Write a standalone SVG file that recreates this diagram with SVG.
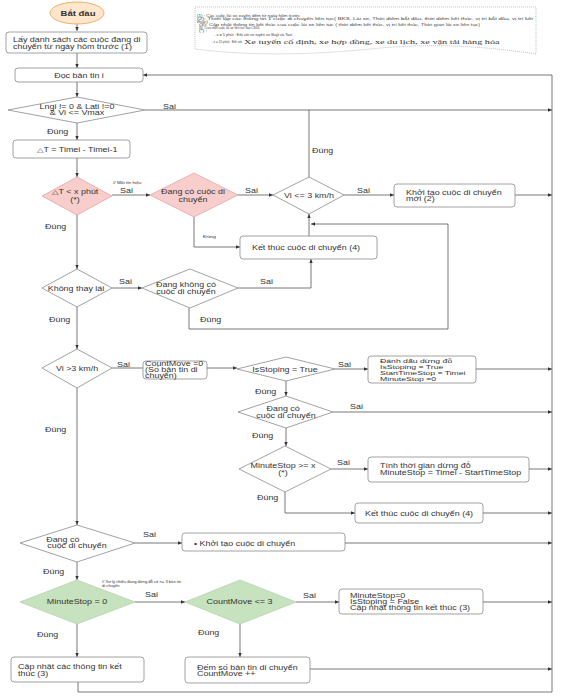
<svg xmlns="http://www.w3.org/2000/svg" width="562" height="696" viewBox="0 0 562 696">
<style>
.t{font-family:"Liberation Sans",Arial,sans-serif;font-size:6.3px;fill:#333}
.c{text-anchor:middle}
.b{font-weight:bold}
.xs{font-size:3.3px}
.n{font-family:"Liberation Sans",Arial,sans-serif;font-size:3.5px;fill:#444}
.sf{font-family:"Liberation Serif","Times New Roman",serif;font-size:6.2px;fill:#333}
.box{fill:#fff;stroke:#8a8a8a;stroke-width:0.8}
.dia{fill:#fff;stroke:#8a8a8a;stroke-width:0.8}
.pink{fill:#f8cecc;stroke:#e6a3a3;stroke-width:0.8}
.green{fill:#c6e2be;stroke:#b4d4ab;stroke-width:0.8}
.ln{fill:none;stroke:#555;stroke-width:0.8}
.ar{marker-end:url(#a)}
</style>
<defs>
<marker id="a" viewBox="0 0 6 6" refX="6" refY="3" markerWidth="4" markerHeight="4" markerUnits="userSpaceOnUse" orient="auto"><path d="M0,0.5 L6,3 L0,5.5 z" fill="#333"/></marker>
</defs>
<rect width="562" height="696" fill="#fff"/>

<g id="note">
<path d="M195,7 H536 V54 C470,44 420,44 370,49 C310,55 250,56 195,49 Z" fill="#fff" stroke="#9a9a9a" stroke-width="0.6" stroke-dasharray="1,1"/>
<text class="n" transform="translate(197,16.5) scale(1.42,1)" textLength="72.5" lengthAdjust="spacingAndGlyphs">(1) : Các cuộc lái xe xuyên đêm từ ngày hôm trước</text>
<text class="n" transform="translate(197,19.7) scale(1.42,1)" textLength="236.6" lengthAdjust="spacingAndGlyphs">(2): Thiết lập các thông tin 1 cuộc di chuyển liên tục( BKS, Lái xe, Thời điểm bắt đầu, thời điểm kết thúc, vị trí bắt đầu, vị trí kết</text>
<text class="n" transform="translate(197,22.7) scale(1.42,1)">thúc)</text>
<text class="n" transform="translate(199,25.7) scale(1.42,1)" textLength="198" lengthAdjust="spacingAndGlyphs">(3): Cập nhật thông tin kết thúc của cuộc lái xe liên tục ( thời điểm kết thúc, vị trí kết thúc, Thời gian lái xe liên tục)</text>
<text class="n" transform="translate(199,28.7) scale(1.42,1)" textLength="43" lengthAdjust="spacingAndGlyphs">(4) : Lưu một cuộc lái xe liên tục vào CSDL</text>
<text class="n" transform="translate(199,31.7) scale(1.42,1)">(*) :</text>
<text class="n" transform="translate(214,35.6) scale(1.42,1)" textLength="55" lengthAdjust="spacingAndGlyphs">- x = 5 phút : Đối với xe tuyến xe Buýt và Taxi</text>
<text class="n" style="font-size:3.2px" x="211.5" y="43.4">- x = 15 phút : Đối với</text>
<text class="sf" transform="translate(244,43.6) scale(1.42,1)" textLength="180" lengthAdjust="spacingAndGlyphs">Xe tuyến cố định, xe hợp đồng, xe du lịch, xe vận tải hàng hóa</text>
</g>

<g id="connectors">
<path class="ln ar" d="M77,24 V31"/>
<path class="ln ar" d="M77,53 V68"/>
<path class="ln ar" d="M77,82 V97"/>
<path class="ln ar" d="M145,110 H552"/>
<path class="ln ar" d="M77,123 V140"/>
<path class="ln ar" d="M77,158 V177"/>
<path class="ln ar" d="M112,195 H150"/>
<path class="ln ar" d="M238,195 H273"/>
<path class="ln ar" d="M344,195 H394"/>
<path class="ln ar" d="M515,195 H552"/>
<path class="ln" d="M309,177 V110"/>
<path class="ln ar" d="M194,217 V247 H240"/>
<path class="ln ar" d="M309,236 V214"/>
<path class="ln ar" d="M189,308 V329 H448 V224 H311"/>
<path class="ln ar" d="M77,215 V269"/>
<path class="ln ar" d="M112,288 H142"/>
<path class="ln ar" d="M238,288 H311 V259"/>
<path class="ln ar" d="M77,307 V349"/>
<path class="ln" d="M112,368 H143"/>
<path class="ln ar" d="M207,368 H237"/>
<path class="ln ar" d="M335,369 H368"/>
<path class="ln ar" d="M476,369 H552"/>
<path class="ln ar" d="M286,381 V396"/>
<path class="ln ar" d="M333,412 H552"/>
<path class="ln ar" d="M286,428 V446"/>
<path class="ln ar" d="M331,469 H368"/>
<path class="ln ar" d="M529,469 H552"/>
<path class="ln ar" d="M285,492 V513 H355"/>
<path class="ln ar" d="M483,513 H552"/>
<path class="ln ar" d="M77,388 V525"/>
<path class="ln ar" d="M135,543 H182"/>
<path class="ln ar" d="M345,543 H552"/>
<path class="ln ar" d="M77,562 V580"/>
<path class="ln ar" d="M135,602 H185"/>
<path class="ln ar" d="M296,602 H339"/>
<path class="ln ar" d="M483,602 H552"/>
<path class="ln ar" d="M240,624 V657"/>
<path class="ln ar" d="M310,669 H552"/>
<path class="ln ar" d="M77,624 V657"/>
<path class="ln ar" d="M78,682 V692 H552 V75 H143"/>
</g>

<g id="labels">
<text class="t" transform="translate(163,108.5) scale(1.42,1)">Sai</text>
<text class="t" transform="translate(47,134) scale(1.42,1)">Đúng</text>
<text class="t xs" transform="translate(113,184) scale(1.42,1)">// Mất tín hiệu</text>
<text class="t" transform="translate(120,193) scale(1.42,1)">Sai</text>
<text class="t" transform="translate(245,193) scale(1.42,1)">Sai</text>
<text class="t" transform="translate(312,153) scale(1.42,1)">Đúng</text>
<text class="t" transform="translate(357,193) scale(1.42,1)">Sai</text>
<text class="t" style="font-size:3.8px" transform="translate(203,238) scale(1.42,1)">Đúng</text>
<text class="t" transform="translate(45,229) scale(1.42,1)">Đúng</text>
<text class="t" transform="translate(119,284) scale(1.42,1)">Sai</text>
<text class="t" transform="translate(260,284) scale(1.42,1)">Sai</text>
<text class="t" transform="translate(200,321.5) scale(1.42,1)">Đúng</text>
<text class="t" transform="translate(49,321.5) scale(1.42,1)">Đúng</text>
<text class="t" transform="translate(117,366.5) scale(1.42,1)">Sai</text>
<text class="t" transform="translate(338,366.5) scale(1.42,1)">Sai</text>
<text class="t" transform="translate(255,394) scale(1.42,1)">Đúng</text>
<text class="t" transform="translate(350,409) scale(1.42,1)">Sai</text>
<text class="t" transform="translate(252,438) scale(1.42,1)">Đúng</text>
<text class="t" transform="translate(337,465) scale(1.42,1)">Sai</text>
<text class="t" transform="translate(257,500) scale(1.42,1)">Đúng</text>
<text class="t" transform="translate(45,432) scale(1.42,1)">Đúng</text>
<text class="t" transform="translate(143,536.5) scale(1.42,1)">Sai</text>
<text class="t" transform="translate(43,573.5) scale(1.42,1)">Đúng</text>
<text class="t" style="font-size:2.9px" transform="translate(102,582.5) scale(1.42,1)"><tspan x="0">// Xử lý nhiều đang dừng đỗ có &lt;= 3 bản tin</tspan><tspan x="0" dy="4.5">di chuyển</tspan></text>
<text class="t" transform="translate(145,597.3) scale(1.42,1)">Sai</text>
<text class="t" transform="translate(303,598.3) scale(1.42,1)">Sai</text>
<text class="t" transform="translate(198,635) scale(1.42,1)">Đúng</text>
<text class="t" transform="translate(37,637.3) scale(1.42,1)">Đúng</text>
</g>

<g id="n-start"><ellipse cx="77" cy="13" rx="27" ry="11" fill="#ffe6cc" stroke="#f0a85a" stroke-width="0.9"/><text class="t b c" style="font-size:6.7px" transform="translate(78,15.5) scale(1.42,1)">Bắt đầu</text></g>
<g id="n-list"><rect class="box" x="6" y="32" width="141" height="21" rx="3"/><text class="t" transform="translate(13,42) scale(1.42,1)"><tspan x="0">Lấy danh sách các cuộc đang di</tspan><tspan x="0" dy="7">chuyển từ ngày hôm trước (1)</tspan></text></g>
<g id="n-read"><rect class="box" x="15" y="68" width="128" height="14" rx="3"/><text class="t c" transform="translate(79,77.5) scale(1.42,1)">Đọc bản tin i</text></g>
<g id="n-valid"><polygon class="dia" points="8,110 77,97 145,110 77,123"/><text class="t c" transform="translate(77,108.5) scale(1.42,1)"><tspan x="0">Lngi != 0 &amp; Lati !=0</tspan><tspan x="0" dy="7">&amp; Vi &lt;= Vmax</tspan></text></g>
<g id="n-dt"><rect class="box" x="13" y="140" width="117" height="18" rx="3"/><text class="t c" transform="translate(77,152.3) scale(1.42,1)">△T = Timei - Timei-1</text></g>
<g id="n-dtx"><polygon class="pink" points="42,196 77,177 112,196 77,215"/><text class="t c" transform="translate(75,194) scale(1.42,1)"><tspan x="0">△T &lt; x phút</tspan><tspan x="0" dy="8">(*)</tspan></text></g>
<g id="n-moving1"><polygon class="pink" points="150,195 194,173 238,195 194,217"/><text class="t c" transform="translate(193,194) scale(1.42,1)"><tspan x="0">Đang có cuộc di</tspan><tspan x="0" dy="8">chuyển</tspan></text></g>
<g id="n-vi3"><polygon class="dia" points="273,195 309,177 344,195 309,214"/><text class="t c" transform="translate(309,197.5) scale(1.42,1)">Vi &lt;= 3 km/h</text></g>
<g id="n-newtrip"><rect class="box" x="394" y="184" width="121" height="23" rx="3"/><text class="t" transform="translate(406,194.5) scale(1.42,1)"><tspan x="0">Khởi tạo cuộc di chuyển</tspan><tspan x="0" dy="7">mới (2)</tspan></text></g>
<g id="n-end1"><rect class="box" x="240" y="236" width="137" height="23" rx="3"/><text class="t c" transform="translate(306,250) scale(1.42,1)">Kết thúc cuộc di chuyển (4)</text></g>
<g id="n-driver"><polygon class="dia" points="42,288 77,269 112,288 77,307"/><text class="t c" transform="translate(76,290.5) scale(1.42,1)">Không thay lái</text></g>
<g id="n-notmoving"><polygon class="dia" points="142,288 190,269 238,288 190,308"/><text class="t c" transform="translate(186,287.3) scale(1.42,1)"><tspan x="0">Đang không có</tspan><tspan x="0" dy="7">cuộc di chuyển</tspan></text></g>
<g id="n-vi3b"><polygon class="dia" points="42,368 77,349 112,368 77,388"/><text class="t c" transform="translate(77,370.5) scale(1.42,1)">Vi &gt;3 km/h</text></g>
<g id="n-cm0"><rect class="box" x="143" y="361" width="64" height="18" rx="3"/><text class="t" transform="translate(145,366.3) scale(1.42,1)"><tspan x="0">CountMove =0</tspan><tspan x="0" dy="6">(Số bản tin di</tspan><tspan x="0" dy="6">chuyển)</tspan></text></g>
<g id="n-isstop"><polygon class="dia" points="237,369 286,357 335,369 286,381"/><text class="t c" transform="translate(285,371.5) scale(1.42,1)">IsStoping = True</text></g>
<g id="n-mark"><rect class="box" x="368" y="356" width="108" height="27" rx="3"/><text class="t" style="font-size:6.1px" transform="translate(380,363.2) scale(1.42,1)"><tspan x="0">Đánh dấu dừng đỗ</tspan><tspan x="0" dy="5.9">IsStoping = True</tspan><tspan x="0" dy="5.9">StartTimeStop = Timei</tspan><tspan x="0" dy="5.9">MinuteStop =0</tspan></text></g>
<g id="n-moving2"><polygon class="dia" points="238,412 286,396 333,412 286,428"/><text class="t c" transform="translate(286,411.3) scale(1.42,1)"><tspan x="-2">Đang có</tspan><tspan x="0" dy="6.4">cuộc di chuyển</tspan></text></g>
<g id="n-minstop"><polygon class="dia" points="239,469 285,446 331,469 285,492"/><text class="t c" transform="translate(283,468.3) scale(1.42,1)"><tspan x="0">MinuteStop &gt;= x</tspan><tspan x="0" dy="6.4">(*)</tspan></text></g>
<g id="n-calc"><rect class="box" x="368" y="457" width="161" height="25" rx="3"/><text class="t" transform="translate(380,468.3) scale(1.42,1)"><tspan x="0">Tính thời gian dừng đỗ</tspan><tspan x="0" dy="6.4">MinuteStop  = Timei - StartTimeStop</tspan></text></g>
<g id="n-end2"><rect class="box" x="355" y="503" width="128" height="20" rx="3"/><text class="t c" transform="translate(419,515.6) scale(1.42,1)">Kết thúc cuộc di chuyển (4)</text></g>
<g id="n-moving3"><polygon class="dia" points="20,543 77,525 135,543 77,562"/><text class="t c" transform="translate(77,541.5) scale(1.42,1)"><tspan x="-10">Đang có</tspan><tspan x="0" dy="7">cuộc di chuyển</tspan></text></g>
<g id="n-init"><rect class="box" x="182" y="533" width="163" height="18" rx="3"/><text class="t" transform="translate(194,545.5) scale(1.42,1)">•  Khởi tạo cuộc di chuyển</text></g>
<g id="n-ms0"><polygon class="green" points="20,602 77,580 135,602 77,624"/><text class="t c" transform="translate(77,604.3) scale(1.42,1)">MinuteStop = 0</text></g>
<g id="n-cm3"><polygon class="green" points="185,602 240,580 296,602 240,624"/><text class="t c" transform="translate(239.5,604.3) scale(1.42,1)">CountMove &lt;= 3</text></g>
<g id="n-reset"><rect class="box" x="339" y="589" width="144" height="25" rx="3"/><text class="t" transform="translate(350,597.5) scale(1.42,1)"><tspan x="0">MinuteStop=0</tspan><tspan x="0" dy="6.3">IsStoping = False</tspan><tspan x="0" dy="6.3">Cập nhật thông tin kết thúc (3)</tspan></text></g>
<g id="n-count"><rect class="box" x="185" y="657" width="125" height="26" rx="3"/><text class="t" transform="translate(197,669.6) scale(1.42,1)"><tspan x="0">Đếm số bản tin di chuyển</tspan><tspan x="0" dy="6.7">CountMove  ++</tspan></text></g>
<g id="n-update"><rect class="box" x="11" y="657" width="133" height="25" rx="3"/><text class="t" transform="translate(18,669) scale(1.42,1)"><tspan x="0">Cập nhật các thông tin kết</tspan><tspan x="0" dy="6.6">thúc  (3)</tspan></text></g>
</svg>
